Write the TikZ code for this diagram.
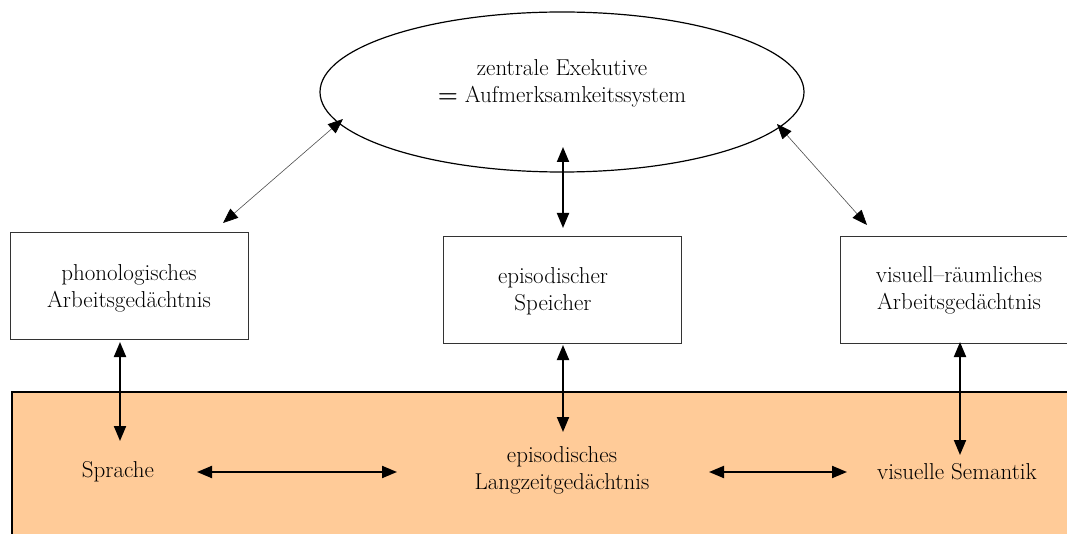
\documentclass[tikz,border=0pt]{standalone}
\usepackage{fontspec}
\setmainfont{Latin Modern Roman}
\usetikzlibrary{shapes.geometric,arrows.meta}
\definecolor{ltmorange}{HTML}{FFCB98}
\begin{document}
\begin{tikzpicture}[x=1pt,y=-1pt,
  txt/.style={font=\fontsize{23}{27}\selectfont, align=center, text=black, inner sep=0pt},
  boxstyle/.style={draw=black!80, line width=1pt, minimum width=238pt, minimum height=106pt, inner sep=0pt},
  thinarr/.style={line width=0.6pt, draw=black!70, {Triangle[length=15pt,width=12pt,fill=black,color=black]}-{Triangle[length=15pt,width=12pt,fill=black,color=black]}},
  thickarr/.style={line width=2pt, {Triangle[length=15pt,width=12pt]}-{Triangle[length=15pt,width=12pt]}}
]
\useasboundingbox (0,0) rectangle (1067,534);
\clip (0,0) rectangle (1067,534);
% long-term memory area
\path[fill=ltmorange, draw=black, line width=1.5pt] (12,392) rectangle (1090,560);
% central executive
\node[ellipse, draw=black, line width=1.2pt, minimum width=484pt, minimum height=160pt, inner sep=0pt] (exec) at (562,92) {};
\node[txt] (exectext) at (562,83) {zentrale Exekutive\\\textbf{=} Aufmerksamkeitssystem};
% boxes
\node[boxstyle] (phon) at (129,286) {};
\node[txt] (phontext) at (129,288) {phonologisches\\Arbeitsged\"achtnis};
\node[boxstyle] (epi) at (562,290) {};
\node[txt] (epitext) at (553,291) {episodischer\\Speicher};
\node[boxstyle] (vis) at (959,290) {};
\node[txt] (vistext) at (959,290) {visuell--r\"aumliches\\Arbeitsged\"achtnis};
% long-term texts
\node[txt] (spr) at (118,472) {Sprache};
\node[txt] (ltm) at (562,470) {episodisches\\Langzeitged\"achtnis};
\node[txt] (sem) at (957,472) {visuelle Semantik};
% connector end points
\coordinate (a1) at (343,119); \coordinate (a2) at (223,223);
\coordinate (b1) at (563,147); \coordinate (b2) at (563,228);
\coordinate (c1) at (777,124); \coordinate (c2) at (867,225);
\coordinate (d1) at (120,342); \coordinate (d2) at (120,441);
\coordinate (e1) at (563,345); \coordinate (e2) at (563,432);
\coordinate (f1) at (960,342); \coordinate (f2) at (960,455);
\coordinate (g1) at (197,472); \coordinate (g2) at (397,472);
\coordinate (h1) at (709,472); \coordinate (h2) at (847,472);
% connectors
\draw[thinarr] (a1) -- (a2);
\draw[thickarr] (b1) -- (b2);
\draw[thinarr] (c1) -- (c2);
\draw[thickarr] (d1) -- (d2);
\draw[thickarr] (e1) -- (e2);
\draw[thickarr] (f1) -- (f2);
\draw[thickarr] (g1) -- (g2);
\draw[thickarr] (h1) -- (h2);
\end{tikzpicture}
\end{document}
